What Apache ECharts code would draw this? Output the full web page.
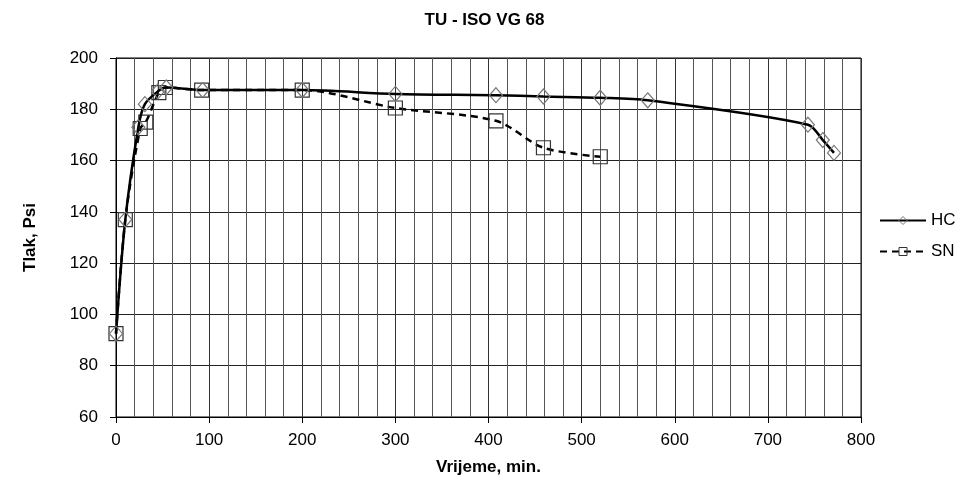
<!DOCTYPE html>
<html><head><meta charset="utf-8">
<script src="https://cdn.jsdelivr.net/npm/echarts@6/dist/echarts.min.js"></script>
<style>html,body{margin:0;padding:0;background:#fff}#c{width:969px;height:492px}</style>
</head><body><div id="c"></div>
<script>
const title = 'TU - ISO VG 68';
const xName = 'Vrijeme, min.';
const yName = 'Tlak, Psi';
const hcX = [0, 10, 24, 31, 45, 54, 93, 200, 300, 408, 459, 520, 571, 743, 759, 771];
const hcY = [92.5, 137, 173, 182, 187, 188.5, 187.5, 187.5, 186, 185.5, 185, 184.5, 183.5, 174, 168, 163];
const snX = [0, 10, 26, 32, 46, 53, 92, 200, 300, 408, 459, 520];
const snY = [92.5, 137, 172.5, 175, 186.5, 188.5, 187.5, 187.5, 180.5, 175.5, 165, 161.5];

const zip = (a, b) => a.map((v, i) => [v, b[i]]);
const font = 'Liberation Sans, Arial, sans-serif';
const chart = echarts.init(document.getElementById('c'), null, {renderer: 'canvas'});
chart.setOption({
  backgroundColor: '#fff',
  animation: false,
  title: {text: title, left: 'center', top: 7, textStyle: {fontFamily: font, fontSize: 17, fontWeight: 'bold', color: '#000'}},
  legend: {
    orient: 'vertical', left: 874, top: 207, itemGap: 14, itemWidth: 46, itemHeight: 10,
    textStyle: {fontFamily: font, fontSize: 17, color: '#000'},
    data: [
      {name: 'HC', itemStyle: {borderWidth: 1}},
      {name: 'SN', itemStyle: {borderWidth: 1}}
    ]
  },
  grid: {left: 116, right: 108, top: 58, bottom: 75, show: true, borderColor: '#000', borderWidth: 1},
  xAxis: {
    type: 'value', min: 0, max: 800, interval: 100,
    name: xName, nameLocation: 'middle', nameGap: 42,
    nameTextStyle: {fontFamily: font, fontSize: 17, fontWeight: 'bold', color: '#000'},
    axisLine: {lineStyle: {color: '#000', width: 1}},
    axisTick: {show: true, inside: false, length: 6, lineStyle: {color: '#000'}},
    axisLabel: {fontFamily: font, fontSize: 17, color: '#000', margin: 15},
    splitLine: {show: true, lineStyle: {color: '#333', width: 1}},
    minorTick: {show: false, splitNumber: 5},
    minorSplitLine: {show: true, lineStyle: {color: '#555', width: 1}}
  },
  yAxis: {
    type: 'value', min: 60, max: 200, interval: 20,
    name: yName, nameLocation: 'middle', nameGap: 77, nameRotate: 90,
    nameTextStyle: {fontFamily: font, fontSize: 17, fontWeight: 'bold', color: '#000'},
    axisLine: {show: true, lineStyle: {color: '#000', width: 1}},
    axisTick: {show: true, inside: false, length: 6, lineStyle: {color: '#000'}},
    axisLabel: {fontFamily: font, fontSize: 17, color: '#000', margin: 18},
    splitLine: {show: true, lineStyle: {color: '#222', width: 1}}
  },
  series: [
    {
      name: 'HC', type: 'line', data: zip(hcX, hcY), smooth: 0.3,
      symbol: 'diamond', symbolSize: [13, 15], showAllSymbol: true,
      lineStyle: {color: '#000', width: 2.5, type: 'solid'},
      itemStyle: {color: 'rgba(255,255,255,0)', borderColor: '#777', borderWidth: 1.2},
      z: 3
    },
    {
      name: 'SN', type: 'line', data: zip(snX, snY), smooth: 0.3,
      symbol: 'rect', symbolSize: 14, showAllSymbol: true,
      lineStyle: {color: '#000', width: 2.5, type: [7, 5]},
      itemStyle: {color: 'rgba(255,255,255,0)', borderColor: '#333', borderWidth: 1.2},
      z: 2
    }
  ]
});
</script>
</body></html>
